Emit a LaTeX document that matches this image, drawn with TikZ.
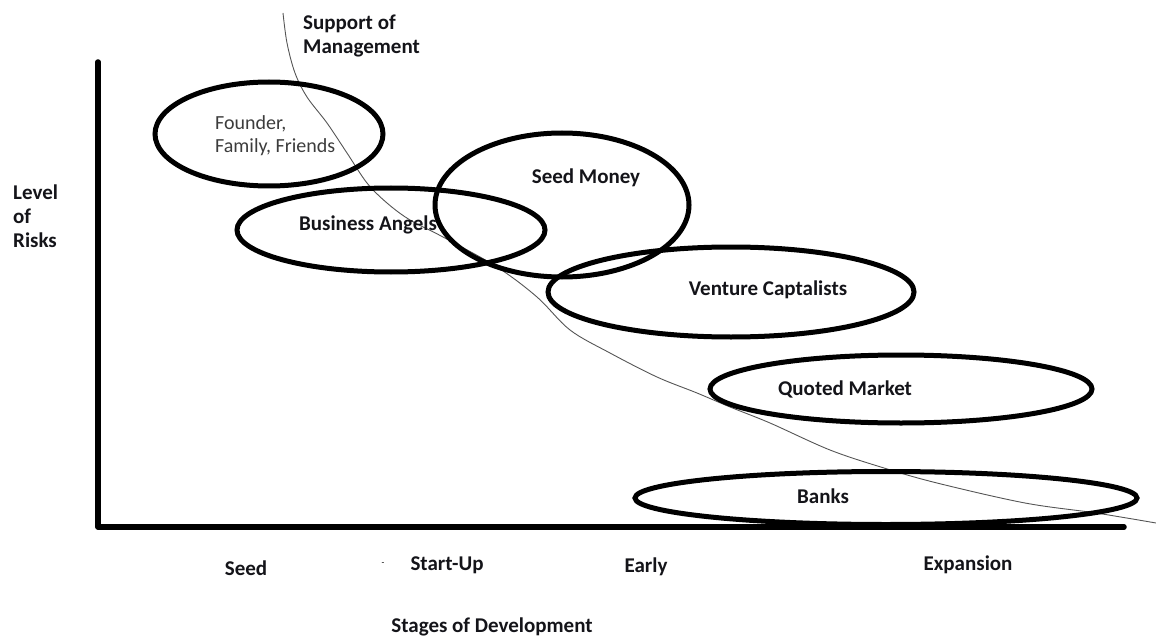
\documentclass[tikz,border=0pt]{standalone}
\usepackage{fontspec}
\setmainfont{Carlito}
\usepackage{tikz}
\usetikzlibrary{shapes.geometric, positioning}
\definecolor{mydark}{RGB}{20,20,25}
\definecolor{mygrey}{RGB}{60,60,60}
\definecolor{curvegrey}{RGB}{85,85,85}
\tikzset{
  source/.style={ellipse, draw=black, line width=5pt, inner sep=0pt},
  lbl/.style={font=\bfseries\fontsize{21}{24}\selectfont, color=mydark,
    align=left, inner sep=0pt},
  plainlbl/.style={font=\fontsize{20}{23}\selectfont, color=mygrey,
    align=left, inner sep=0pt},
  axis/.style={line width=5.5pt, line cap=round, line join=round, color=black},
  support/.style={line width=0.9pt, color=curvegrey}
}

\begin{document}
\begin{tikzpicture}[x=1pt, y=-1pt]
  \useasboundingbox (0,0) rectangle (1156,639);

  % Support of management curve
  \draw[support] plot[smooth, tension=0.55] coordinates {
    (283,13) (287,43) (295,73) (307,97) (327,123) (347,153) (367,183)
    (387,203) (410,220) (443,237) (497,267) (537,297) (570,330) (610,353)
    (657,377) (697,393) (730,407) (770,423) (830,450) (884,468) (937,483)
    (1025,503) (1096,513) (1156,523)};

  % Axes
  \coordinate (top) at (98,62);
  \coordinate (origin) at (98,527);
  \coordinate (xend) at (1124,527);
  \draw[axis] (top) -- (origin) -- (xend);

  % Sources of finance
  \node[source, minimum width=228pt, minimum height=104pt] (fff) at (269,134) {};
  \node[source, minimum width=308pt, minimum height=84pt] (angels) at (391,230) {};
  \node[source, minimum width=254pt, minimum height=144pt] (seedmoney) at (562,205) {};
  \node[source, minimum width=366pt, minimum height=90pt] (venture) at (731,292) {};
  \node[source, minimum width=382pt, minimum height=68pt] (quoted) at (901,389) {};
  \node[source, minimum width=502pt, minimum height=53pt] (banks) at (886,498) {};

  \node[plainlbl, anchor=west] (fffname) at (215,136) {Founder,\\Family, Friends};
  \node[lbl] (angelsname) at (368,225) {Business Angels};
  \node[lbl] (seedmoneyname) at (586,178) {Seed Money};
  \node[lbl] (venturename) at (768,290) {Venture Captalists};
  \node[lbl] (quotedname) at (845,389) {Quoted Market};
  \node[lbl] (banksname) at (823,496) {Banks};

  % Axis labels
  \node[lbl, anchor=west] (risk) at (13,216) {Level\\of\\Risks};
  \node[lbl, anchor=west] (supportname) at (303,36) {Support of\\Management};

  % Stages
  \node[lbl] (seed) at (246,568) {Seed};
  \node[font=\fontsize{9}{10}\selectfont, inner sep=0pt] (mark) at (383,564) {-};
  \node[lbl] (startup) at (447,565) {Start-Up};
  \node[lbl] (early) at (646,567) {Early};
  \node[lbl] (expansion) at (968,565) {Expansion};
  \node[lbl] (stages) at (492,627) {Stages of Development};
\end{tikzpicture}
\end{document}
